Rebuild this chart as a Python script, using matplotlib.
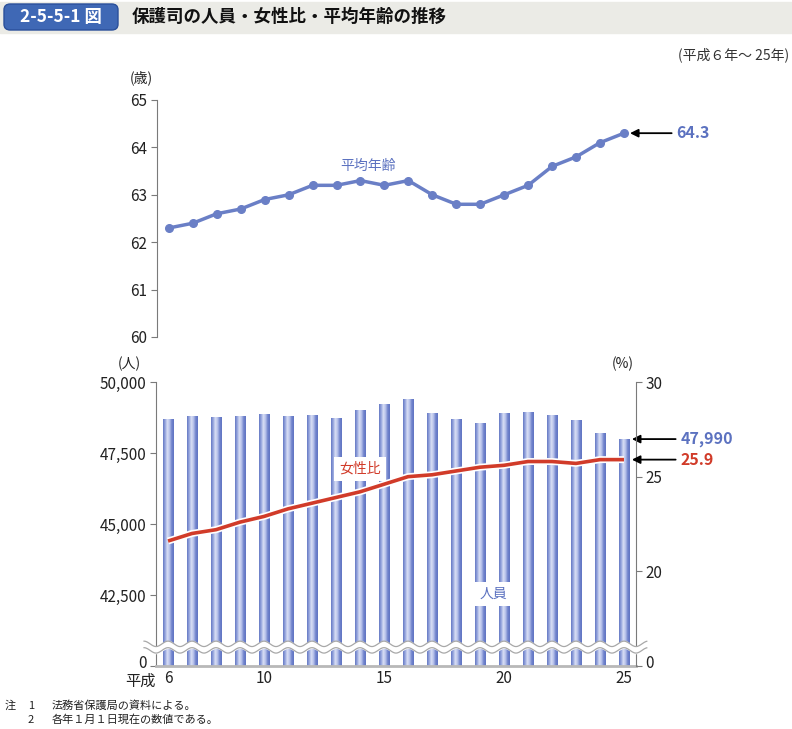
import matplotlib.pyplot as plt
import matplotlib.patheffects as pe
import matplotlib.transforms as mtransforms
import numpy as np
from matplotlib.colors import LinearSegmentedColormap
from matplotlib.patches import Rectangle, FancyBboxPatch

plt.rcParams['font.family'] = ['Noto Sans CJK JP', 'DejaVu Sans']

# 平成6年～25年
years = list(range(6, 26))
avg_age = [62.3, 62.4, 62.6, 62.7, 62.9, 63.0, 63.2, 63.2, 63.3, 63.2,
           63.3, 63.0, 62.8, 62.8, 63.0, 63.2, 63.6, 63.8, 64.1, 64.3]
people = [48690, 48810, 48770, 48800, 48890, 48810, 48850, 48750, 49000, 49210,
          49390, 48910, 48680, 48570, 48920, 48930, 48850, 48660, 48220, 47990]
female_ratio = [21.6, 22.0, 22.2, 22.6, 22.9, 23.3, 23.6, 23.9, 24.2, 24.6,
                25.0, 25.1, 25.3, 25.5, 25.6, 25.8, 25.8, 25.7, 25.9, 25.9]
xticks = [6, 10, 15, 20, 25]
age_ticks = [60, 61, 62, 63, 64, 65]
people_ticks = [40000, 42500, 45000, 47500, 50000]
people_labels = ['0', '42,500', '45,000', '47,500', '50,000']
ratio_ticks = [15, 20, 25, 30]
ratio_labels = ['0', '20', '25', '30']

blue = '#6a7fc6'
blue_txt = '#5c72c0'
red = '#d13b29'
axis_col = '#7a7a7a'

fig = plt.figure(figsize=(7.92, 7.29), dpi=100)

# header
fig.patches.append(Rectangle((0, 1 - 33/729), 1, 31/729, transform=fig.transFigure,
                             color='#ebebe6', zorder=0))
fig.patches.append(FancyBboxPatch((4/792, 1 - 30/729), 114/792, 26/729,
                                  boxstyle='round,pad=0,rounding_size=0.008',
                                  transform=fig.transFigure, facecolor='#3f68b5',
                                  edgecolor='#2a4f9a', lw=1, zorder=1))
fig.text(61/792, 1 - 17/729, '2-5-5-1 図', color='white', fontsize=12.5,
         fontweight='bold', ha='center', va='center')
fig.text(132/792, 1 - 17/729, '保護司の人員・女性比・平均年齢の推移', fontsize=12.6,
         fontweight='bold', ha='left', va='center', color='#111')
fig.text(789/792, 1 - 55/729, '(平成６年～ 25年)', fontsize=10, ha='right',
         va='center', color='#333')

# ---- top: 平均年齢
ax1 = fig.add_axes([0.198, 1 - 337/729, 0.605, 237/729])
ax1.plot(years, avg_age, color=blue, lw=2.5, marker='o', ms=5.5, clip_on=False)
ax1.set_xlim(5.5, 25.5)
ax1.set_ylim(60, 65)
ax1.set_yticks(age_ticks)
ax1.set_xticks([])
for s in ['top', 'right', 'bottom']:
    ax1.spines[s].set_visible(False)
ax1.spines['left'].set_color(axis_col)
ax1.spines['left'].set_linewidth(0.8)
ax1.tick_params(axis='y', length=4, width=0.8, color=axis_col, labelsize=11,
                labelcolor='#222', pad=3)
fig.text(141/792, 1 - 78/729, '(歳)', fontsize=10, ha='center', va='center', color='#222')
ax1.text(14.3, 63.6, '平均年齢', color=blue_txt, fontsize=10, ha='center', va='center')
ax1.annotate('', xy=(25.25, avg_age[-1]), xytext=(30, 0), textcoords='offset points',
             arrowprops=dict(arrowstyle='-|>', color='black', lw=1.3,
                             mutation_scale=12, shrinkA=0, shrinkB=0))
ax1.annotate(f'{avg_age[-1]:.1f}', xy=(25.25, avg_age[-1]), xytext=(33, 0),
             textcoords='offset points', color=blue_txt, fontsize=11.5,
             fontweight='bold', ha='left', va='center')

# ---- bottom: 人員 + 女性比
ax = fig.add_axes([0.197, 1 - 666/729, 0.606, 284/729])
bars = ax.bar(years, people, width=0.44, color='none', edgecolor='none')
cmap = LinearSegmentedColormap.from_list(
    'cyl', ['#6679c4', '#97a6de', '#d9dff5', '#b6c1ea', '#7285cd', '#6074c2'])
grad = np.linspace(0, 1, 64).reshape(1, -1)
for b in bars:
    x0 = b.get_x()
    im = ax.imshow(grad, cmap=cmap, aspect='auto', zorder=2,
                   extent=(x0, x0 + b.get_width(), 40000, b.get_height()))
    im.set_clip_path(b)
ax.set_xlim(5.5, 25.5)
ax.set_ylim(40000, 50000)
ax.set_yticks(people_ticks)
ax.set_yticklabels(people_labels)
ax.set_xticks(xticks)
ax.set_xticklabels([str(t) for t in xticks])
ax.spines['top'].set_visible(False)
ax.spines['right'].set_visible(False)
ax.spines['left'].set_color(axis_col)
ax.spines['left'].set_linewidth(0.8)
ax.spines['bottom'].set_color('#b8b8b8')
ax.spines['bottom'].set_linewidth(2)
ax.tick_params(axis='y', length=4, width=0.8, color=axis_col, labelsize=11,
               labelcolor='#222', pad=3)
ax.tick_params(axis='x', length=0, labelsize=11, labelcolor='#222', pad=3)
ax.annotate('平成', xy=(5.5, 0), xycoords=('data', 'axes fraction'),
            xytext=(0, -5), textcoords='offset points', ha='right', va='top',
            fontsize=11, color='#222')

ax2 = ax.twinx()
ax2.set_ylim(15, 30)
ax2.set_yticks(ratio_ticks)
ax2.set_yticklabels(ratio_labels)
for s in ['top', 'left', 'bottom']:
    ax2.spines[s].set_visible(False)
ax2.spines['right'].set_color(axis_col)
ax2.spines['right'].set_linewidth(0.8)
ax2.tick_params(axis='y', length=4, width=0.8, color=axis_col, labelsize=11,
                labelcolor='#222', pad=3)
ax2.plot(years, female_ratio, color=red, lw=2.6, solid_capstyle='butt',
         path_effects=[pe.Stroke(linewidth=5, foreground='white'), pe.Normal()])

# lift the "0" labels a little, as in the reference
lift = mtransforms.ScaledTranslation(0, 3/72, fig.dpi_scale_trans)
for lab in [ax.get_yticklabels()[0], ax2.get_yticklabels()[0]]:
    lab.set_transform(lab.get_transform() + lift)

# wavy break
wx = np.linspace(5.0, 25.95, 600)
wy = 40780 + 95 * np.sin(2 * np.pi * (wx - 5.75))
ax2.fill_between(wx, wy - 230, wy, color='white', transform=ax.transData,
                 clip_on=False, zorder=5)
ax2.plot(wx, wy, color='#a8a8a8', lw=0.9, transform=ax.transData, clip_on=False, zorder=6)
ax2.plot(wx, wy - 230, color='#a8a8a8', lw=0.9, transform=ax.transData, clip_on=False, zorder=6)

fig.text(129/792, 1 - 364/729, '(人)', fontsize=10, ha='center', va='center', color='#222')
fig.text(623/792, 1 - 364/729, '(%)', fontsize=10, ha='center', va='center', color='#222')

ax2.text(14.0, 25.42, '女性比', color=red, fontsize=10, ha='center', va='center', zorder=7,
         bbox=dict(facecolor='white', edgecolor='none', pad=3.5))
ax2.text(19.55, 18.8, '人員', color=blue_txt, fontsize=10, ha='center', va='center', zorder=7,
         bbox=dict(facecolor='white', edgecolor='none', pad=3.5))

ax.annotate('', xy=(25.33, people[-1]), xytext=(31.5, 0), textcoords='offset points',
            arrowprops=dict(arrowstyle='-|>', color='black', lw=1.3,
                            mutation_scale=12, shrinkA=0, shrinkB=0), annotation_clip=False)
ax.annotate(f'{people[-1]:,}', xy=(25.33, people[-1]), xytext=(35, 0),
            textcoords='offset points', color=blue_txt, fontsize=11.5,
            fontweight='bold', ha='left', va='center', annotation_clip=False)
ax2.annotate('', xy=(25.33, female_ratio[-1]), xytext=(31.5, 0), textcoords='offset points',
             arrowprops=dict(arrowstyle='-|>', color='black', lw=1.3,
                             mutation_scale=12, shrinkA=0, shrinkB=0), annotation_clip=False)
ax2.annotate(f'{female_ratio[-1]:.1f}', xy=(25.33, female_ratio[-1]), xytext=(35, 0),
             textcoords='offset points', color=red, fontsize=11.5,
             fontweight='bold', ha='left', va='center', annotation_clip=False)

# notes
fig.text(5/792, 1 - 706/729, '注', fontsize=8, va='center', color='#222')
fig.text(28/792, 1 - 706/729, '1', fontsize=8, va='center', color='#222')
fig.text(52/792, 1 - 706/729, '法務省保護局の資料による。', fontsize=8, va='center', color='#222')
fig.text(28/792, 1 - 720/729, '2', fontsize=8, va='center', color='#222')
fig.text(52/792, 1 - 720/729, '各年１月１日現在の数値である。', fontsize=8, va='center', color='#222')

fig.savefig('out.png', dpi=100)
